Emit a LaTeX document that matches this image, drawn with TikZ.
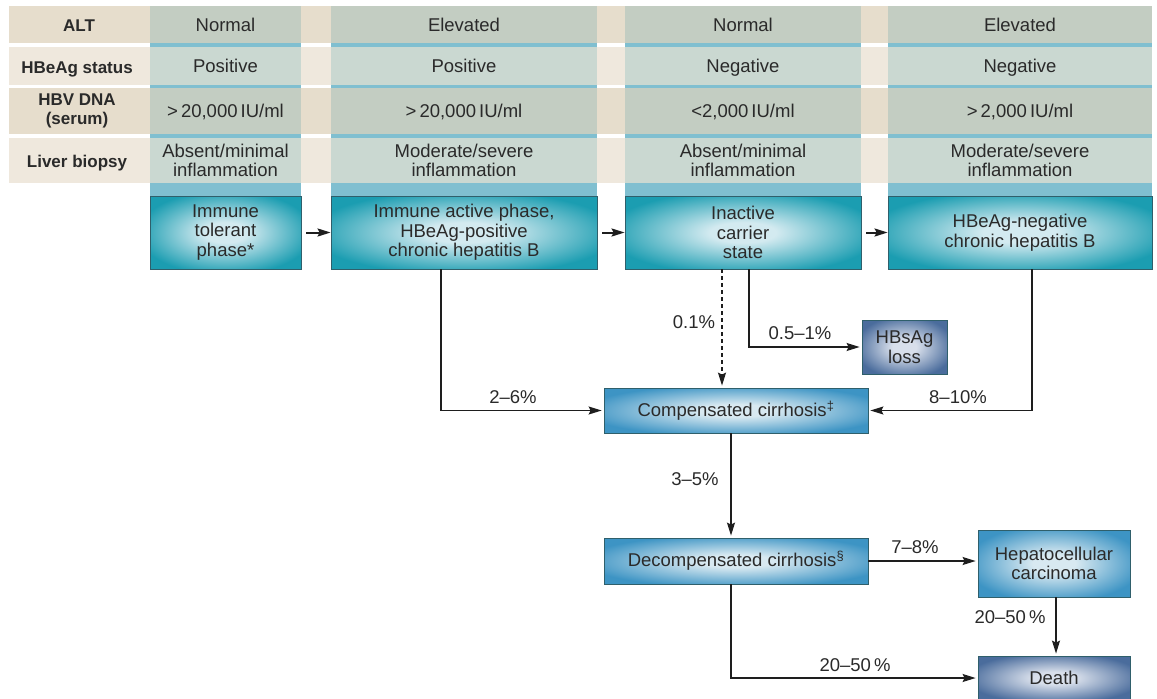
\documentclass[tikz,border=0pt]{standalone}
\usepackage{fontspec}
\setmainfont{Liberation Sans}
\usetikzlibrary{arrows.meta,calc}
\definecolor{beigeD}{HTML}{E6DDCC}
\definecolor{beigeL}{HTML}{EFE8DD}
\definecolor{cellD}{HTML}{C3CDC2}
\definecolor{cellL}{HTML}{CAD8D1}
\definecolor{bluebar}{HTML}{80BFD0}
\definecolor{tealout}{HTML}{1B9DB1}
\definecolor{tealin}{HTML}{D3EAF0}
\definecolor{blueout}{HTML}{3D94C4}
\definecolor{bluein}{HTML}{D8E9F1}
\definecolor{slateout}{HTML}{4A6C9C}
\definecolor{slatein}{HTML}{D8DFEB}
\definecolor{txt}{HTML}{2A2A2A}
\definecolor{edge}{HTML}{2F5F6B}
\definecolor{arrowc}{HTML}{1E1E1E}
\pgfdeclareradialshading{glowteal}{\pgfpoint{0bp}{0bp}}{color(0bp)=(tealin); color(7bp)=(tealin); color(29bp)=(tealout); color(50bp)=(tealout)}
\pgfdeclareradialshading{glowblue}{\pgfpoint{0bp}{0bp}}{color(0bp)=(bluein); color(7bp)=(bluein); color(29bp)=(blueout); color(50bp)=(blueout)}
\pgfdeclareradialshading{glowslate}{\pgfpoint{0bp}{0bp}}{color(0bp)=(slatein); color(7bp)=(slatein); color(29bp)=(slateout); color(50bp)=(slateout)}
\begin{document}
\begin{tikzpicture}[x=1pt,y=-1pt,
  font=\fontsize{18.5}{19.5}\selectfont, text=txt,
  cell/.style={inner sep=0pt, align=center, text=txt},
  one/.style={text height=13pt, text depth=0pt},
  hdr/.style={cell, font=\fontsize{17}{19.5}\selectfont\bfseries},
  phase/.style={draw=edge, line width=0.8pt, shade, shading=glowteal,
    align=center, inner sep=0pt, minimum height=73pt},
  bluebox/.style={draw=edge, line width=0.8pt, shade, shading=glowblue,
    align=center, inner sep=0pt},
  slatebox/.style={draw=edge, line width=0.8pt, shade, shading=glowslate,
    align=center, inner sep=0pt},
  arr/.style={draw=arrowc, line width=1.3pt, -{Stealth[length=13pt,width=8pt,inset=2pt]}, shorten >=2pt},
  parr/.style={draw=arrowc, line width=2pt, -{Stealth[length=13pt,width=8pt,inset=2pt]}, shorten <=5pt},
  lbl/.style={inner sep=0pt, text=txt}
]
\useasboundingbox (0,0) rectangle (1157,699);
\fill[white] (0,0) rectangle (1157,699);

% beige rows
\fill[beigeD] (9,6) rectangle (1152,43);
\fill[beigeL] (9,47) rectangle (1152,85);
\fill[beigeD] (9,88) rectangle (1152,134);
\fill[beigeL] (9,138) rectangle (1152,183);

% blue bars behind columns
\fill[bluebar] (150,43) rectangle (301,196);
\fill[bluebar] (331,43) rectangle (597,196);
\fill[bluebar] (625,43) rectangle (861,196);
\fill[bluebar] (888,43) rectangle (1152,196);

% row labels
\node[hdr, one] (lalt) at (79,25) {ALT};
\node[hdr, one] (lhbe) at (77,66.5) {HBeAg status};
\node[hdr] (ldna) at (77,111) {HBV DNA\\(serum)};
\node[hdr, one] (lbio) at (77,161) {Liver biopsy};

% column 1
\node[cell, one, fill=cellD, minimum width=151pt, minimum height=37pt] (a1) at (225.5,24.5) {Normal};
\node[cell, one, fill=cellL, minimum width=151pt, minimum height=38pt] (b1) at (225.5,66) {Positive};
\node[cell, one, fill=cellD, minimum width=151pt, minimum height=46pt] (d1) at (225.5,111) {>\,20,000\,IU/ml};
\node[cell, fill=cellL, minimum width=151pt, minimum height=45pt] (e1) at (225.5,160.5) {Absent/minimal\\inflammation};
% column 2
\node[cell, one, fill=cellD, minimum width=266pt, minimum height=37pt] (a2) at (464,24.5) {Elevated};
\node[cell, one, fill=cellL, minimum width=266pt, minimum height=38pt] (b2) at (464,66) {Positive};
\node[cell, one, fill=cellD, minimum width=266pt, minimum height=46pt] (d2) at (464,111) {>\,20,000\,IU/ml};
\node[cell, fill=cellL, minimum width=266pt, minimum height=45pt] (e2) at (464,160.5) {Moderate/severe\\inflammation};
% column 3
\node[cell, one, fill=cellD, minimum width=236pt, minimum height=37pt] (a3) at (743,24.5) {Normal};
\node[cell, one, fill=cellL, minimum width=236pt, minimum height=38pt] (b3) at (743,66) {Negative};
\node[cell, one, fill=cellD, minimum width=236pt, minimum height=46pt] (d3) at (743,111) {<2,000\,IU/ml};
\node[cell, fill=cellL, minimum width=236pt, minimum height=45pt] (e3) at (743,160.5) {Absent/minimal\\inflammation};
% column 4
\node[cell, one, fill=cellD, minimum width=264pt, minimum height=37pt] (a4) at (1020,24.5) {Elevated};
\node[cell, one, fill=cellL, minimum width=264pt, minimum height=38pt] (b4) at (1020,66) {Negative};
\node[cell, one, fill=cellD, minimum width=264pt, minimum height=46pt] (d4) at (1020,111) {>\,2,000\,IU/ml};
\node[cell, fill=cellL, minimum width=264pt, minimum height=45pt] (e4) at (1020,160.5) {Moderate/severe\\inflammation};

% phase boxes
\node[phase, minimum width=151pt] (p1) at (225.5,232.5) {Immune\\tolerant\\phase*};
\node[phase, minimum width=266pt] (p2) at (464,232.5) {Immune active phase,\\HBeAg-positive\\chronic hepatitis B};
\node[phase, minimum width=236pt] (p3) at (743,232.5) {Inactive\\carrier\\state};
\node[phase, minimum width=264pt] (p4) at (1020,232.5) {HBeAg-negative\\chronic hepatitis B};

\draw[parr] (p1) -- (p2);
\draw[parr] (p2) -- (p3);
\draw[parr] (p3) -- (p4);

% outcome boxes
\node[bluebox, minimum width=264pt, minimum height=45pt] (comp) at (736,410.5) {Compensated cirrhosis\textsuperscript{‡}};
\node[slatebox, minimum width=85pt, minimum height=54pt] (loss) at (904.5,347) {HBsAg\\loss};
\node[bluebox, minimum width=264pt, minimum height=46pt] (decomp) at (736,561) {Decompensated cirrhosis\textsuperscript{\S}};
\node[bluebox, minimum width=152pt, minimum height=67pt] (hcc) at (1054,563.5) {Hepatocellular\\carcinoma};
\node[slatebox, minimum width=152pt, minimum height=44pt] (death) at (1054,678) {Death};

% connectors
\draw[arr] ([xshift=-23pt]p2.south) |- (comp.west);
\node[lbl] (l26) at (513,397) {2–6\%};
\draw[arr] ([xshift=12pt]p4.south) |- (comp.east);
\node[lbl] (l810) at (958,397) {8–10\%};
\draw[arr, dashed, dash pattern=on 4pt off 3pt] ([xshift=-21pt]p3.south) -- ([xshift=-21pt]p3.south |- comp.north);
\node[lbl] (l01) at (694,322) {0.1\%};
\draw[arr] ([xshift=6pt]p3.south) |- (loss.west);
\node[lbl] (l051) at (800,333) {0.5–1\%};
\draw[arr] ([xshift=-5pt]comp.south) -- ([xshift=-5pt]decomp.north);
\node[lbl] (l35) at (695,479) {3–5\%};
\draw[arr] (decomp.east) -- (decomp.east -| hcc.west);
\node[lbl] (l78) at (915,547) {7–8\%};
\draw[arr] ([xshift=2pt]hcc.south) -- ([xshift=2pt]death.north);
\node[lbl] (l2050a) at (1010,617) {20–50\,\%};
\draw[arr] ([xshift=-5pt]decomp.south) |- (death.west);
\node[lbl] (l2050b) at (855,665) {20–50\,\%};
\end{tikzpicture}
\end{document}
